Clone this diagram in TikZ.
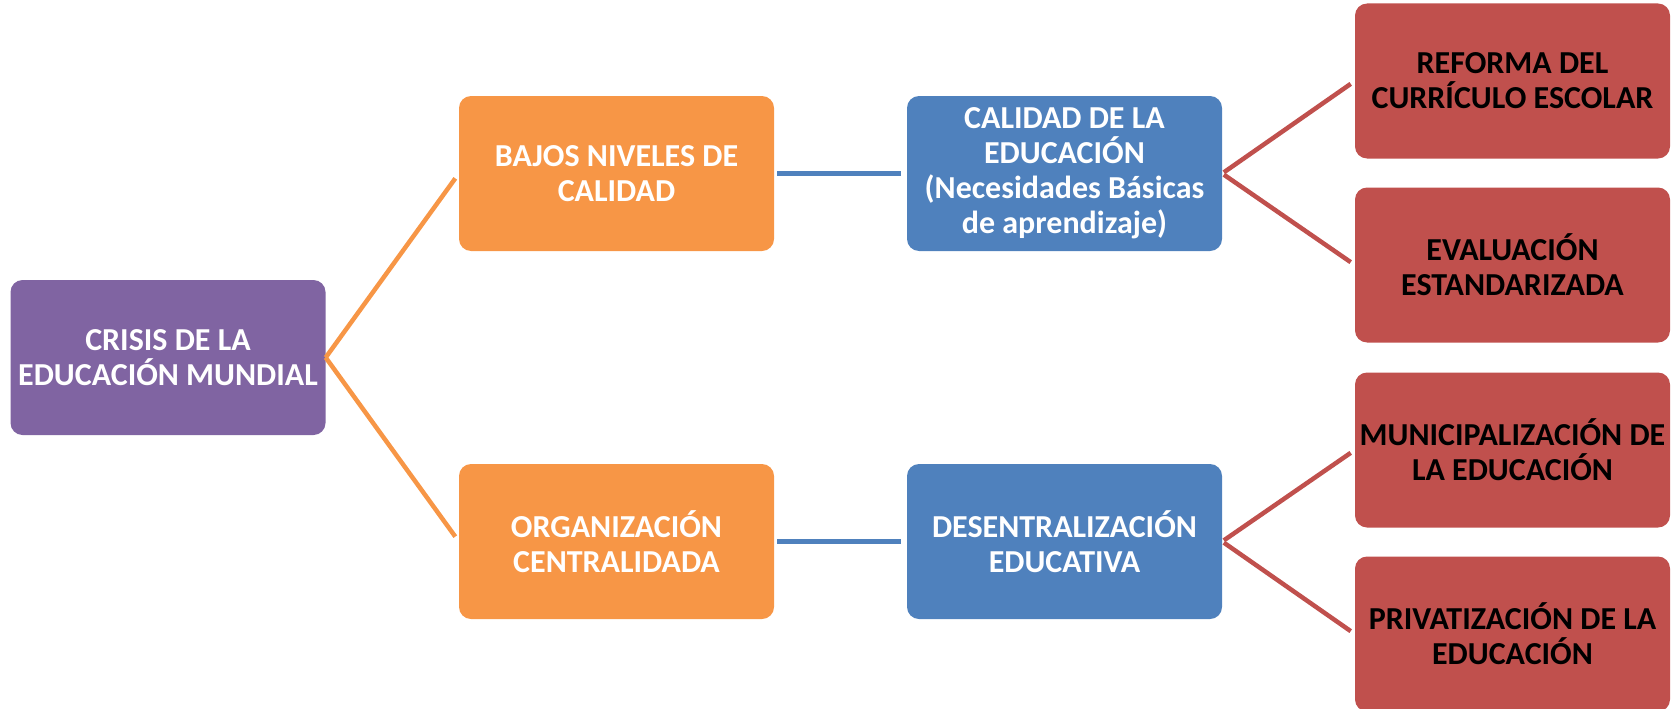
\documentclass[tikz,border=0pt]{standalone}
\usepackage{fontspec}
\setmainfont{Carlito}
\definecolor{cpurple}{HTML}{8064A2}
\definecolor{corange}{HTML}{F79646}
\definecolor{cblue}{HTML}{4F81BD}
\definecolor{cred}{HTML}{C0504D}
\begin{document}
\begin{tikzpicture}[x=1pt,y=-1pt,
  box/.style={rounded corners=12pt, minimum width=315pt, minimum height=155pt,
    inner sep=0pt, align=center, font=\bfseries\fontsize{32}{35}\selectfont},
  pbox/.style={box, fill=cpurple, text=white},
  obox/.style={box, fill=corange, text=white},
  bbox/.style={box, fill=cblue, text=white},
  rbox/.style={box, fill=cred, text=black},
  oline/.style={draw=corange, line width=4.5pt, shorten >=6pt},
  bline/.style={draw=cblue, line width=5pt, shorten <=3pt, shorten >=6pt},
  rline/.style={draw=cred, line width=4.5pt, shorten <=2pt, shorten >=5pt}]
\useasboundingbox (0,0) rectangle (1675,709);
\node[pbox] (p) at (168,357.5) {CRISIS DE LA\\EDUCACIÓN MUNDIAL};
\node[obox] (o1) at (616.5,173.5) {BAJOS NIVELES DE\\CALIDAD};
\node[obox] (o2) at (616.5,541.5) {ORGANIZACIÓN\\CENTRALIDADA};
\node[bbox] (b1) at (1064.5,173.5) {CALIDAD DE LA\\EDUCACIÓN\\(Necesidades Básicas\\de aprendizaje)};
\node[bbox] (b2) at (1064.5,541.5) {DESENTRALIZACIÓN\\EDUCATIVA};
\node[rbox] (r1) at (1512.5,81) {REFORMA DEL\\CURRÍCULO ESCOLAR};
\node[rbox] (r2) at (1512.5,265) {EVALUACIÓN\\ESTANDARIZADA};
\node[rbox] (r3) at (1512.5,450) {MUNICIPALIZACIÓN DE\\LA EDUCACIÓN};
\node[rbox] (r4) at (1512.5,634) {PRIVATIZACIÓN DE LA\\EDUCACIÓN};
\draw[oline] (p.east) -- (o1.west);
\draw[oline] (p.east) -- (o2.west);
\draw[bline] (o1.east) -- (b1.west);
\draw[bline] (o2.east) -- (b2.west);
\draw[rline] (b1.east) -- (r1.west);
\draw[rline] (b1.east) -- (r2.west);
\draw[rline] (b2.east) -- (r3.west);
\draw[rline] (b2.east) -- (r4.west);
\end{tikzpicture}
\end{document}
